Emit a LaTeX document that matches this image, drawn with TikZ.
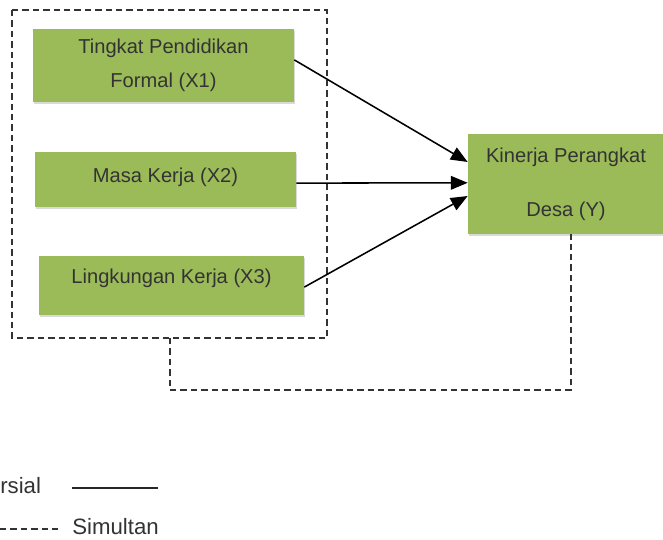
\documentclass[tikz,border=0pt]{standalone}
\usepackage{fontspec}
\setmainfont{Liberation Sans}
\usepackage{xcolor}
\usetikzlibrary{arrows.meta,shadows}

\definecolor{boxgreen}{HTML}{9BBB59}
\definecolor{txtgray}{HTML}{333333}

\tikzset{
    varbox/.style={fill=boxgreen, draw=none, text=txtgray, align=center,
        font=\fontsize{14.3}{24}\selectfont,
        drop shadow={shadow xshift=0.5pt, shadow yshift=-1.5pt, fill=black!15, opacity=1}},
    parsial/.style={line width=1.1pt, -{Triangle[length=0.42cm,width=0.34cm]}},
    simultan/.style={line width=1pt, dash pattern=on 0.16cm off 0.1cm, draw=black!80}
}

\begin{document}
\begin{tikzpicture}[x=0.025cm, y=-0.025cm]

        \useasboundingbox (0, 0) rectangle (663, 539);

        % kotak variabel bebas
        \node[varbox, minimum width=6.525cm, minimum height=1.825cm] (x1) at (163.5, 65.5)
            {Tingkat Pendidikan\\Formal (X1)};
        \node[varbox, minimum width=6.525cm, minimum height=1.375cm, text depth=0.2cm] (x2) at (165.5, 179.5)
            {Masa Kerja (X2)};
        \node[varbox, minimum width=6.625cm, minimum height=1.475cm, text depth=0.45cm] (x3) at (171.5, 285.5)
            {Lingkungan Kerja (X3)};

        % variabel terikat
        \node[varbox, minimum width=4.9cm, minimum height=2.5cm] (y) at (566, 184)
            {Kinerja Perangkat\\[0.5cm]Desa (Y)};

        % garis simultan
        \coordinate(g1) at (12, 10);
        \coordinate(g2) at (327, 338);
        \coordinate(s1) at (170, 338);
        \coordinate(s2) at (170, 390);
        \coordinate(s3) at (571, 390);
        \coordinate(s4) at (571, 234);
        \draw[simultan] (g1) rectangle (g2);
        \draw[simultan] (s1) -- (s2) -- (s3) -- (s4);

        % garis parsial
        \draw[parsial] ([yshift=0.14cm]x1.east) -- ([yshift=0.55cm]y.west);
        \draw[parsial] ([yshift=-0.09cm]x2.east) -- ([yshift=0.03cm]y.west);
        \draw[parsial] ([yshift=-0.04cm]x3.east) -- ([yshift=-0.3cm]y.west);

        % keterangan
        \coordinate(l1) at (72, 488);
        \coordinate(l2) at (158, 488);
        \coordinate(l3) at (0, 529);
        \coordinate(l4) at (62, 529);
        \draw[line width=1.6pt, draw=black!85] (l1) -- (l2);
        \draw[simultan, line width=1.4pt] (l3) -- (l4);
        \node[anchor=west, inner sep=0pt, text=txtgray, font=\fontsize{15.8}{18}\selectfont] (lp) at (0, 486) {rsial};
        \node[anchor=west, inner sep=0pt, text=txtgray, font=\fontsize{15.8}{18}\selectfont] (ls) at (72, 527) {Simultan};

    \end{tikzpicture}
\end{document}
